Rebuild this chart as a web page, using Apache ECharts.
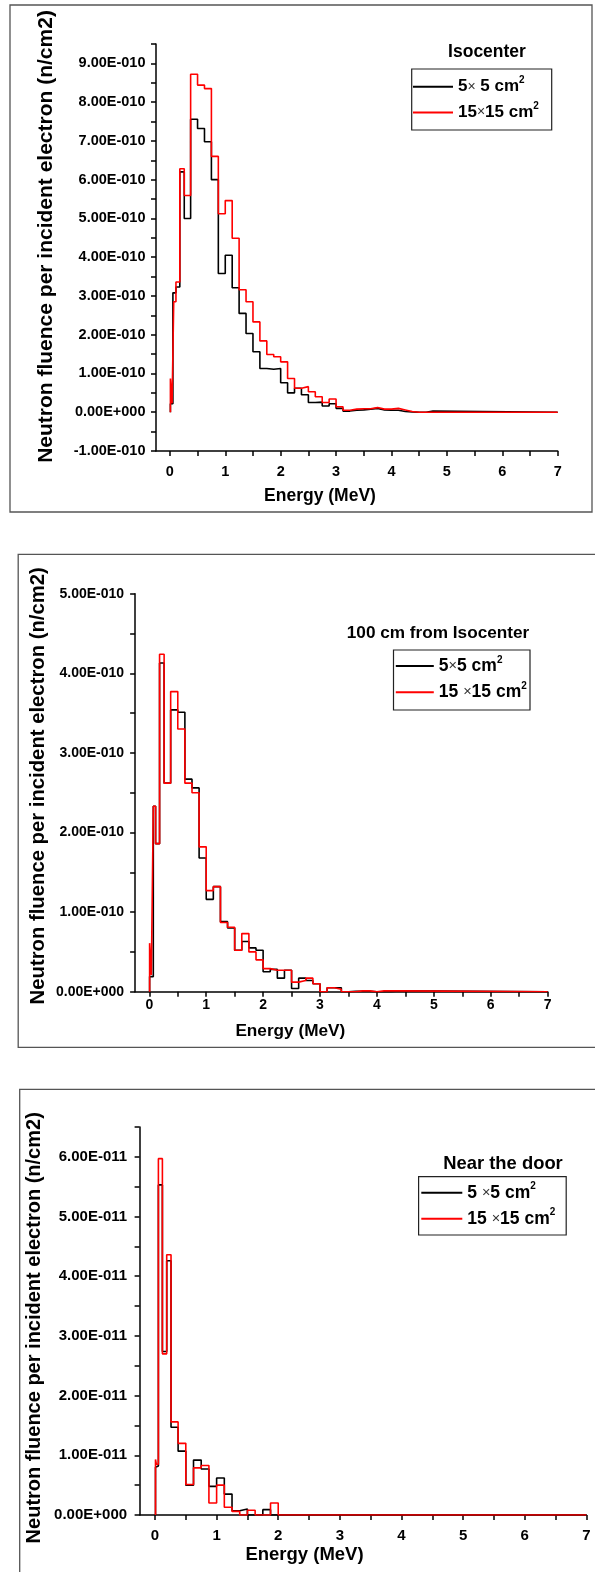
<!DOCTYPE html>
<html>
<head>
<meta charset="utf-8">
<script src="https://cdn.jsdelivr.net/npm/echarts@6/dist/echarts.min.js"></script>
<style>
  html, body { margin: 0; padding: 0; background: #fff; }
  #chart { width: 595px; height: 1572px; }
</style>
</head>
<body>
<div id="chart"></div>
<script>
// Neutron fluence spectra per incident electron for 5x5 and 15x15 cm2 fields,
// scored at three positions. Edges are histogram bin edges in MeV; the fluence
// arrays hold one value per bin, expressed in the matching *_UNIT (n/cm2).

const energyTicks = [0, 1, 2, 3, 4, 5, 6, 7];

// --- Isocenter ---
const ISO_UNIT = 1e-10;
const isoEdges = [0.01, 0.04, 0.055, 0.07, 0.11, 0.18, 0.26, 0.375, 0.5, 0.625, 0.75, 0.875,
  1.0, 1.125, 1.25, 1.375, 1.5, 1.625, 1.75, 1.875, 2.0, 2.125, 2.25, 2.375, 2.5, 2.625,
  2.75, 2.875, 3.0, 3.125, 3.25, 3.375, 3.5, 3.625, 3.75, 3.875, 4.0, 4.125, 4.25, 4.375,
  4.5, 4.625, 4.75, 7.0];
const iso5x5 = [0.22, 0.22, 3.08, 3.08, 3.23, 6.2, 5.0, 7.56, 7.32, 6.98, 6.0, 3.58,
  4.05, 3.21, 2.55, 2.03, 1.56, 1.13, 1.11, 1.13, 0.76, 0.50, 0.62, 0.45, 0.25, 0.26,
  0.16, 0.22, 0.10, 0.03, 0.05, 0.06, 0.08, 0.10, 0.06, 0.05, 0.05, 0.02, 0.01, 0.0,
  0.0, 0.03, 0.0];
const iso15x15 = [0.87, 0.23, 0.23, 2.85, 3.36, 6.28, 5.59, 8.72, 8.44, 8.35, 6.6, 5.12,
  5.46, 4.49, 3.16, 2.85, 2.33, 1.84, 1.49, 1.43, 1.30, 0.87, 0.62, 0.66, 0.53, 0.40,
  0.25, 0.34, 0.14, 0.05, 0.08, 0.09, 0.09, 0.12, 0.08, 0.08, 0.10, 0.06, 0.02, 0.0,
  0.0, 0.0, 0.0];
const isoFluenceTicks = [-1, 0, 1, 2, 3, 4, 5, 6, 7, 8, 9];

// --- 100 cm from isocenter ---
const FAR_UNIT = 1e-10;
const farEdges = [0.005, 0.035, 0.07, 0.11, 0.18, 0.26, 0.375, 0.5, 0.625, 0.75, 0.875,
  1.0, 1.125, 1.25, 1.375, 1.5, 1.625, 1.75, 1.875, 2.0, 2.125, 2.25, 2.375, 2.5, 2.625,
  2.75, 2.875, 3.0, 3.125, 3.25, 3.375, 3.5, 3.625, 3.75, 3.875, 4.0, 4.125, 4.25, 4.375, 7.0];
const far5x5 = [0.19, 0.19, 2.33, 1.86, 4.13, 2.62, 3.54, 3.51, 2.67, 2.56, 1.68, 1.16,
  1.32, 0.88, 0.80, 0.52, 0.63, 0.55, 0.52, 0.25, 0.28, 0.17, 0.27, 0.04, 0.17, 0.14,
  0.10, 0.0, 0.05, 0.05, 0.0, 0.005, 0.005, 0.005, 0.0, 0.0, 0.0, 0.01, 0.0];
const far15x15 = [0.61, 0.21, 2.33, 1.86, 4.24, 2.62, 3.77, 3.30, 2.62, 2.50, 1.82, 1.27,
  1.32, 0.87, 0.81, 0.52, 0.73, 0.50, 0.40, 0.29, 0.27, 0.27, 0.27, 0.12, 0.14, 0.17,
  0.10, 0.0, 0.05, 0.03, 0.0, 0.0, 0.01, 0.01, 0.0, 0.01, 0.01, 0.01, 0.0];
const farFluenceTicks = [0, 1, 2, 3, 4, 5];

// --- Near the door ---
const DOOR_UNIT = 1e-11;
const doorEdges = [0.008, 0.022, 0.055, 0.12, 0.19, 0.26, 0.375, 0.5, 0.625, 0.75, 0.875,
  1.0, 1.125, 1.25, 1.375, 1.5, 1.625, 1.75, 1.875, 2.0, 7.0];
const door5x5 = [0.80, 0.82, 5.53, 2.74, 4.26, 1.47, 1.07, 0.50, 0.92, 0.77, 0.48, 0.62,
  0.35, 0.07, 0.10, 0.0, 0.0, 0.09, 0.0, 0.0];
const door15x15 = [0.93, 0.85, 5.97, 2.70, 4.36, 1.56, 1.20, 0.51, 0.79, 0.83, 0.20, 0.50,
  0.13, 0.06, 0.0, 0.08, 0.0, 0.0, 0.20, 0.0];
const doorFluenceTicks = [0, 1, 2, 3, 4, 5, 6];

// ---------------------------------------------------------------------------
const FONT = '"Liberation Sans", Arial, sans-serif';

const panels = [
  {
    edges: isoEdges, small: iso5x5, large: iso15x15, unit: ISO_UNIT,
    yLabels: isoFluenceTicks, yRange: [-1, 9.5],
    names: ['5\u00d7 5 cm\u00b2', '15\u00d715 cm\u00b2'], title: 'Isocenter',
    grid: { left: 156, top: 44, width: 401.7, height: 407 },
    tickFont: 14.5, xMargin: 13, yMargin: 10.5,
    titlePos: [487, 52.5, 17.5],
    legendBox: [411.7, 69, 140, 61],
    legend: { left: 413, top: 75.7, gap: 6.3, itemWidth: 40, font: 17 },
    xName: [320, 496.5, 17.5], yName: [46.5, 236.5, 21],
    frame: [10, 5, 582, 507]
  },
  {
    edges: farEdges, small: far5x5, large: far15x15, unit: FAR_UNIT,
    yLabels: farFluenceTicks, yRange: [0, 5],
    names: ['5\u00d75 cm\u00b2', '15 \u00d715 cm\u00b2'], title: '100 cm from Isocenter',
    grid: { left: 135.1, top: 593.7, width: 412.5, height: 398 },
    tickFont: 14, xMargin: 6.5, yMargin: 11,
    titlePos: [438, 633.3, 17.2],
    legendBox: [393.5, 650, 136.5, 60],
    legend: { left: 395.8, top: 655, gap: 6.3, itemWidth: 38, font: 17.5 },
    xName: [290.3, 1031.3, 17.2], yName: [38.9, 785.8, 20.3],
    frame: [18.2, 554.3, 600, 493]
  },
  {
    edges: doorEdges, small: door5x5, large: door15x15, unit: DOOR_UNIT,
    yLabels: doorFluenceTicks, yRange: [0, 6.5],
    names: ['5 \u00d75 cm\u00b2', '15\u00a0\u00d715 cm\u00b2'], title: 'Near the door',
    grid: { left: 139.6, top: 1127, width: 446.7, height: 388 },
    tickFont: 15, xMargin: 13, yMargin: 12.5,
    titlePos: [503, 1163.8, 18.4],
    legendBox: [418.6, 1176.7, 147.6, 58.3],
    legend: { left: 421.3, top: 1181.7, gap: 6, itemWidth: 41, font: 17.5 },
    xName: [304.5, 1555, 18.5], yName: [34.7, 1327.8, 20],
    frame: [19.7, 1089.3, 600, 600]
  }
];

// Histogram outline: rise from zero at the first edge, one flat step per bin.
function stepPoints(edges, values, unit) {
  const pts = [[edges[0], 0]];
  values.forEach((v, i) => pts.push([edges[i], v * unit]));
  pts.push([edges[edges.length - 1], values[values.length - 1] * unit]);
  return pts;
}

function halfSteps(a, b) {
  const out = [];
  for (let k = Math.ceil(a * 2); k <= Math.floor(b * 2 + 1e-9); k++) out.push(k / 2);
  return out;
}

// 9.00E-010 style labels
function sci(v) {
  if (Math.abs(v) < 1e-16) return '0.00E+000';
  const parts = v.toExponential(2).split('e');
  const exp = parseInt(parts[1], 10);
  return parts[0] + 'E' + (exp < 0 ? '-' : '+') + String(Math.abs(exp)).padStart(3, '0');
}

function legendText(name) {
  return name.replace(/([^\u00d7\u00b2]+)/g, '{t|$1}')
             .replace('\u00d7', '{x|\u00d7}')
             .replace('\u00b2', '{s|2}');
}

const axisLineStyle = { color: '#000', width: 1.5 };
const grids = [], xAxes = [], yAxes = [], series = [], legends = [], elements = [];

panels.forEach((p, i) => {
  grids.push(Object.assign({ containLabel: false, outerBoundsMode: 'none' }, p.grid));

  xAxes.push({
    type: 'value', gridIndex: i, min: -0.25, max: 7,
    axisLine: { show: true, onZero: false, lineStyle: axisLineStyle },
    axisTick: { show: true, length: 5, lineStyle: axisLineStyle, customValues: halfSteps(0, 7) },
    axisLabel: {
      customValues: energyTicks, margin: p.xMargin, color: '#000',
      fontFamily: FONT, fontWeight: 'bold', fontSize: p.tickFont,
      formatter: v => String(Math.round(v))
    },
    splitLine: { show: false }
  });

  yAxes.push({
    type: 'value', gridIndex: i,
    min: p.yRange[0] * p.unit, max: p.yRange[1] * p.unit,
    axisLine: { show: true, onZero: false, lineStyle: axisLineStyle },
    axisTick: {
      show: true, length: 5, lineStyle: axisLineStyle,
      customValues: halfSteps(p.yRange[0], p.yRange[1]).map(v => v * p.unit)
    },
    axisLabel: {
      customValues: p.yLabels.map(v => v * p.unit), margin: p.yMargin, color: '#000',
      fontFamily: FONT, fontWeight: 'bold', fontSize: p.tickFont,
      formatter: sci
    },
    splitLine: { show: false }
  });

  [[p.names[0], p.small, '#000000'], [p.names[1], p.large, '#ff0000']].forEach(([name, vals, color]) => {
    series.push({
      type: 'line', name, xAxisIndex: i, yAxisIndex: i,
      step: 'end', symbol: 'none', showSymbol: false,
      data: stepPoints(p.edges, vals, p.unit),
      lineStyle: { color, width: 1.6 }, itemStyle: { color },
      emphasis: { disabled: true }
    });
  });

  const lg = p.legend;
  legends.push({
    data: p.names, orient: 'vertical', left: lg.left, top: lg.top, padding: 0,
    icon: 'rect', itemGap: lg.gap, itemWidth: lg.itemWidth, itemHeight: 2,
    selectedMode: false,
    formatter: legendText,
    textStyle: {
      rich: {
        t: { fontFamily: FONT, fontWeight: 'bold', fontSize: lg.font, color: '#000', lineHeight: 22 },
        x: { fontFamily: FONT, fontWeight: 'normal', fontSize: lg.font - 3, color: '#333', lineHeight: 22 },
        s: { fontFamily: FONT, fontWeight: 'bold', fontSize: 10, color: '#000', lineHeight: 12, verticalAlign: 'top' }
      }
    }
  });

  // panel frame
  elements.push({
    type: 'rect', silent: true,
    shape: { x: p.frame[0], y: p.frame[1], width: p.frame[2], height: p.frame[3] },
    style: { fill: 'none', stroke: '#555', lineWidth: 1.3 }
  });
  // legend box
  elements.push({
    type: 'rect', silent: true,
    shape: { x: p.legendBox[0], y: p.legendBox[1], width: p.legendBox[2], height: p.legendBox[3] },
    style: { fill: 'none', stroke: '#222', lineWidth: 1.2 }
  });
  // location title above the legend
  elements.push({
    type: 'text', silent: true, x: p.titlePos[0], y: p.titlePos[1],
    style: {
      text: p.title, fill: '#000', font: 'bold ' + p.titlePos[2] + 'px ' + FONT,
      textAlign: 'center', textVerticalAlign: 'middle'
    }
  });
  // axis titles
  elements.push({
    type: 'text', silent: true, x: p.xName[0], y: p.xName[1],
    style: {
      text: 'Energy (MeV)', fill: '#000', font: 'bold ' + p.xName[2] + 'px ' + FONT,
      textAlign: 'center', textVerticalAlign: 'middle'
    }
  });
  elements.push({
    type: 'text', silent: true, x: p.yName[0], y: p.yName[1], rotation: Math.PI / 2,
    style: {
      text: 'Neutron fluence per incident electron (n/cm2)', fill: '#000',
      font: 'bold ' + p.yName[2] + 'px ' + FONT,
      textAlign: 'center', textVerticalAlign: 'middle'
    }
  });
});

const chart = echarts.init(document.getElementById('chart'), null, { renderer: 'canvas' });
chart.setOption({
  animation: false,
  backgroundColor: '#fff',
  grid: grids,
  xAxis: xAxes,
  yAxis: yAxes,
  legend: legends,
  series: series,
  graphic: { elements: elements }
});
</script>
</body>
</html>
